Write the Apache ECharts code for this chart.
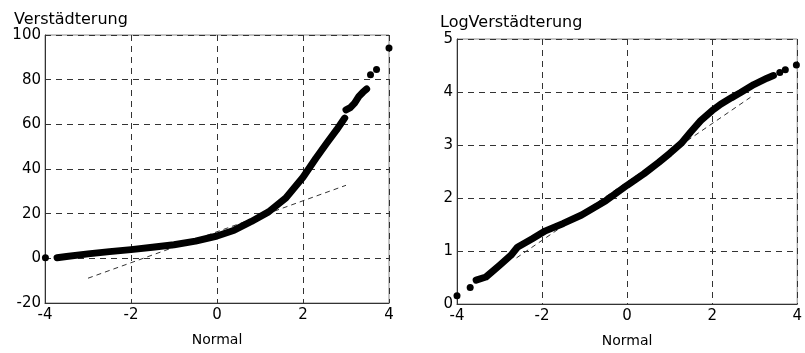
<!DOCTYPE html>
<html>
<head>
<meta charset="utf-8">
<script src="https://cdn.jsdelivr.net/npm/echarts@6/dist/echarts.min.js"></script>
<style>
  html, body { margin: 0; padding: 0; background: #fff; }
  #main { width: 805px; height: 353px; }
</style>
</head>
<body>
<div id="main"></div>
<script>
// left panel: Verstädterung vs normal quantiles
var leftX = [-3.72, -3.5, -3.0, -2.5, -2.0, -1.5, -1.0, -0.5, 0.0, 0.4, 0.8, 1.2, 1.6, 2.0, 2.3, 2.55, 2.78, 2.97];
var leftY = [0.3, 0.8, 2.0, 3.0, 3.9, 5.0, 6.1, 7.7, 10.0, 12.6, 16.5, 20.8, 27.0, 36.3, 44.8, 51.5, 57.5, 62.8];
var leftX2 = [3.0, 3.1, 3.2, 3.3, 3.4, 3.48];
var leftY2 = [66.5, 67.5, 69.5, 72.5, 74.5, 75.8];
var leftOutX = [-3.99, 3.57, 3.71, 4.0];
var leftOutY = [0.3, 82.2, 84.5, 94.2];
var leftRefX = [-3.0, 3.0];
var leftRefY = [-8.9, 32.7];

// right panel: LogVerstädterung
var rightX = [-3.55, -3.32, -3.0, -2.73, -2.58, -2.23, -1.92, -1.5, -1.07, -0.5, 0.0, 0.4, 0.74, 1.0, 1.27, 1.5, 1.73, 2.0, 2.2, 2.45, 2.67, 2.98, 3.29, 3.44];
var rightY = [0.45, 0.51, 0.73, 0.92, 1.07, 1.23, 1.38, 1.52, 1.68, 1.95, 2.24, 2.46, 2.67, 2.84, 3.03, 3.25, 3.46, 3.65, 3.77, 3.89, 3.99, 4.14, 4.26, 4.31];
var rightOutX = [-4.0, -3.69, 3.59, 3.72, 3.98];
var rightOutY = [0.155, 0.31, 4.37, 4.42, 4.51];
var rightRefX = [-2.6, 2.9];
var rightRefY = [0.87, 3.9];

var titles = ['Verstädterung', 'LogVerstädterung'];
var xName = 'Normal';

function pairs(xs, ys) {
    var out = [];
    for (let i = 0; i < xs.length; i++) {
        out.push([xs[i], ys[i]]);
    }
    return out;
}

var font = 'DejaVu Sans';

function makeX(idx) {
    return {
        gridIndex: idx, type: 'value', min: -4, max: 4, interval: 2,
        name: xName, nameLocation: 'middle', nameGap: 30,
        nameTextStyle: { color: '#000', fontFamily: font, fontSize: 14 },
        axisLine: { show: true, onZero: false, lineStyle: { color: '#333', width: 1 } },
        axisTick: { show: false },
        axisLabel: { color: '#000', fontFamily: font, fontSize: 15, margin: 5, showMaxLabel: true, showMinLabel: true },
        splitLine: { show: true, lineStyle: { color: '#333', type: [6, 5], width: 1 } }
    };
}

function makeY(idx, min, max, interval) {
    return {
        gridIndex: idx, type: 'value', min: min, max: max, interval: interval,
        axisLine: { show: true, onZero: false, lineStyle: { color: '#333', width: 1 } },
        axisTick: { show: false },
        axisLabel: { color: '#000', fontFamily: font, fontSize: 15, margin: 4 },
        splitLine: { show: true, lineStyle: { color: '#333', type: [6, 5], width: 1 } }
    };
}

function band(idx, xs, ys) {
    return {
        type: 'line', xAxisIndex: idx, yAxisIndex: idx, data: pairs(xs, ys),
        showSymbol: false, silent: true, animation: false,
        lineStyle: { color: '#000', width: 7, cap: 'round', join: 'round' }
    };
}

function outliers(idx, xs, ys) {
    return {
        type: 'scatter', xAxisIndex: idx, yAxisIndex: idx, data: pairs(xs, ys),
        symbolSize: 7, itemStyle: { color: '#000', opacity: 1 }, animation: false
    };
}

function refLine(idx, xs, ys) {
    return {
        type: 'line', xAxisIndex: idx, yAxisIndex: idx, data: pairs(xs, ys),
        showSymbol: false, silent: true, animation: false, z: 1,
        lineStyle: { color: '#333', width: 1, type: [5, 4] }
    };
}

var myChart = echarts.init(document.getElementById('main'));
myChart.setOption({
    backgroundColor: '#fff',
    animation: false,
    title: [
        { text: titles[0], left: 9, top: 7, textStyle: { color: '#000', fontFamily: font, fontSize: 16, fontWeight: 'normal' } },
        { text: titles[1], left: 435, top: 10, textStyle: { color: '#000', fontFamily: font, fontSize: 16, fontWeight: 'normal' } }
    ],
    grid: [
        { left: 45, right: 416, top: 35, bottom: 50, show: true, borderColor: '#888', borderWidth: 1 },
        { left: 457, right: 4, top: 39, bottom: 47, show: true, borderColor: '#888', borderWidth: 1 }
    ],
    xAxis: [makeX(0), makeX(1)],
    yAxis: [makeY(0, -20, 100, 20), makeY(1, 0, 5, 1)],
    series: [
        refLine(0, leftRefX, leftRefY),
        band(0, leftX, leftY),
        band(0, leftX2, leftY2),
        outliers(0, leftOutX, leftOutY),
        refLine(1, rightRefX, rightRefY),
        band(1, rightX, rightY),
        outliers(1, rightOutX, rightOutY)
    ]
});
</script>
</body>
</html>
